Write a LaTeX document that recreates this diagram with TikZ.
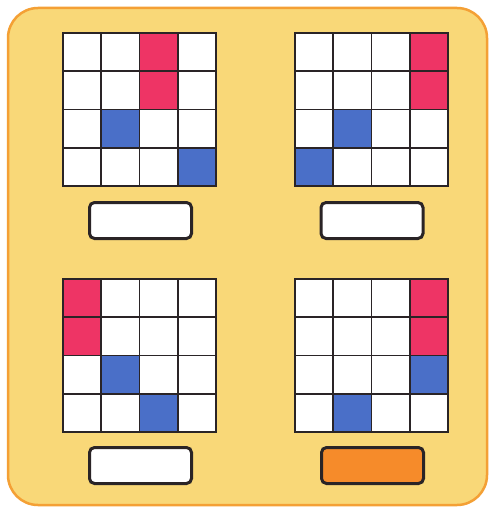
\documentclass[tikz,border=0pt]{standalone}
\definecolor{bgfill}{HTML}{F9D878}
\definecolor{bgline}{HTML}{F4A035}
\definecolor{cred}{HTML}{EE3465}
\definecolor{cblue}{HTML}{4A6FC8}
\definecolor{corange}{HTML}{F68B2A}
\definecolor{ink}{HTML}{2A2426}
\tikzset{
  cell/.style={draw=ink, line width=1.8pt, fill=white, minimum size=38.25pt, inner sep=0pt, outer sep=0pt},
  redcell/.style={cell, fill=cred},
  bluecell/.style={cell, fill=cblue},
  labelbox/.style={draw=ink, line width=3pt, fill=white, rounded corners=5pt, minimum width=102pt, minimum height=36pt, inner sep=0pt},
}
\newcommand{\mygrid}[5]{% name, x0, y0, red list, blue list
  \foreach \r in {0,...,3}{\foreach \c in {0,...,3}{
    \node[cell] (#1-\r-\c) at ({#2+38.25*\c+19.125},{#3+38.25*\r+19.125}) {};
  }}
  \foreach \r/\c in {#4}{\node[redcell] (#1r-\r-\c) at ({#2+38.25*\c+19.125},{#3+38.25*\r+19.125}) {};}
  \foreach \r/\c in {#5}{\node[bluecell] (#1b-\r-\c) at ({#2+38.25*\c+19.125},{#3+38.25*\r+19.125}) {};}
}
\begin{document}
\begin{tikzpicture}[x=1pt,y=-1pt]
\useasboundingbox (0,0) rectangle (491,508);
\fill[white] (0,0) rectangle (491,508);
\draw[bgline, line width=2.5pt, fill=bgfill, rounded corners=30pt] (8,8) rectangle (487,505);
\mygrid{a}{63}{33}{0/2,1/2}{2/1,3/3}
\mygrid{b}{295}{33}{0/3,1/3}{2/1,3/0}
\mygrid{c}{63}{279}{0/0,1/0}{2/1,3/2}
\mygrid{d}{295}{279}{0/3,1/3}{2/3,3/1}
\node[labelbox] (la) at (140.5,220.5) {};
\node[labelbox] (lb) at (372,220.5) {};
\node[labelbox] (lc) at (140.5,465.5) {};
\node[labelbox, fill=corange] (ld) at (372.5,465.5) {};
\end{tikzpicture}
\end{document}
